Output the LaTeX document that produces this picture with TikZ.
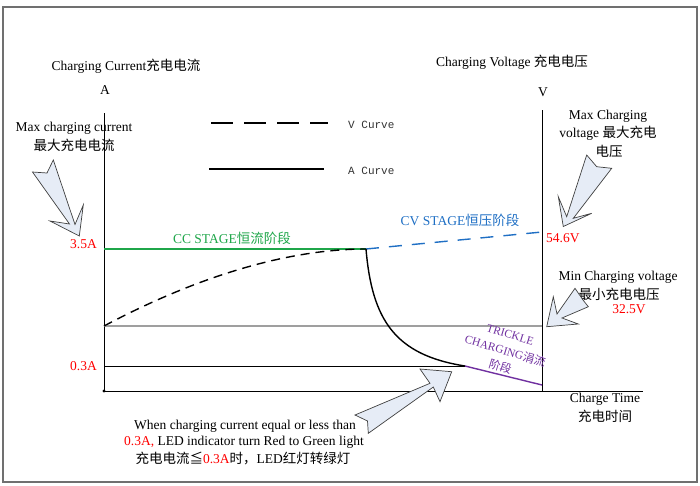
\documentclass[tikz,border=0pt]{standalone}
\usepackage{fontspec}
\setmainfont{Liberation Serif}
\newfontfamily\cjk{Noto Sans CJK SC}
\newfontfamily\monof{Liberation Mono}
\newcommand{\zh}[1]{{\cjk #1}}
\definecolor{calloutfill}{HTML}{E6ECF6}
\definecolor{ccgreen}{HTML}{1FA64A}
\definecolor{cvblue}{HTML}{1F6FC4}
\definecolor{trpurple}{HTML}{7030A0}
\definecolor{framegray}{HTML}{707070}
\begin{document}
\begin{tikzpicture}[x=1pt,y=-1pt,
  lbl/.style={font=\fontsize{13.5}{15}\selectfont, inner sep=0pt},
  redlbl/.style={lbl, text=red},
  trick/.style={font=\fontsize{11.5}{17}\selectfont, inner sep=0pt, text=trpurple, rotate=-17, align=center},
  legendtxt/.style={font=\monof\fontsize{11}{13}\selectfont, inner sep=0pt, text=black!80},
  callout/.style={draw=black!75, fill=calloutfill, line width=0.7pt, line join=miter},
  axis/.style={draw=black, line width=0.9pt},
  curve/.style={line width=1.4pt}]
\useasboundingbox (0,0) rectangle (700,485);
\draw[framegray, line width=1.6pt] (3,7) rectangle (697,482);

% axes
\coordinate (O) at (104,391);
\coordinate (Atop) at (104,113);
\coordinate (Vbot) at (542,391);
\coordinate (Vtop) at (542,110);
\coordinate (Tend) at (643,391);
\draw[axis] (Atop) -- (O) -- (Tend);
\draw[axis] (Vtop) -- (Vbot);
\fill (O) circle (1.6);

% reference lines
\coordinate (g0) at (104,249);
\coordinate (knee) at (366,249);
\coordinate (m0) at (104,326);
\coordinate (m1) at (542,326);
\coordinate (l0) at (104,366);
\coordinate (l1) at (465,366);
\coordinate (cvend) at (542,232);
\coordinate (trend) at (542,385);
\draw[gray!75, line width=1.1pt] (m0) -- (m1);
\draw[black, line width=1pt] (l0) -- (l1);
\draw[ccgreen, line width=1.4pt] (g0) -- (knee);

% curves
\draw[curve, dash pattern=on 9pt off 6pt] (m0) .. controls (200,275) and (290,249) .. (knee);
\draw[cvblue, curve, dash pattern=on 13pt off 10pt] (knee) -- (cvend);
\draw[curve] (knee) .. controls (372,320) and (395,355) .. (l1);
\draw[trpurple, curve] (l1) -- (trend);

% legend
\coordinate (lv0) at (211,123);
\coordinate (lv1) at (328,123);
\coordinate (la0) at (209,169);
\coordinate (la1) at (324,169);
\draw[line width=1.8pt, dash pattern=on 22pt off 11pt] (lv0) -- (lv1);
\draw[line width=1.8pt] (la0) -- (la1);
\node[legendtxt, anchor=west] (vcurve) at (348,125) {V Curve};
\node[legendtxt, anchor=west] (acurve) at (348,171) {A Curve};

% titles
\node[lbl] (ctitle) at (126,66) {Charging Current\zh{充电电流}};
\node[lbl] (aunit) at (105,90) {A};
\node[lbl] (vtitle) at (512,62) {Charging Voltage \zh{充电电压}};
\node[lbl] (vunit) at (543,92) {V};

% callout texts
\node[lbl] (maxc1) at (74,128) {Max charging current};
\node[lbl] (maxc2) at (74,145) {\zh{最大充电电流}};
\node[lbl] (maxv1) at (608,116) {Max Charging};
\node[lbl] (maxv2) at (608,133) {voltage \zh{最大充电}};
\node[lbl] (maxv3) at (609,151) {\zh{电压}};
\node[lbl] (minv1) at (618,277) {Min Charging voltage};
\node[lbl] (minv2) at (619,294) {\zh{最小充电电压}};
\node[redlbl] (minv3) at (629,309) {32.5V};

% value labels
\node[redlbl, anchor=east] (i35) at (97,244) {3.5A};
\node[redlbl, anchor=east] (i03) at (97,366) {0.3A};
\node[redlbl, anchor=west] (v546) at (546,238) {54.6V};

% stage labels
\node[lbl, text=ccgreen] (cc) at (232,238) {CC STAGE\zh{恒流阶段}};
\node[lbl, text=cvblue] (cv) at (460,220) {CV STAGE\zh{恒压阶段}};
\node[trick] (tr) at (505,351.5) {TRICKLE\\CHARGING\zh{涓流}\\\zh{阶段}};

% time axis label
\node[lbl] (ct1) at (605,399) {Charge Time};
\node[lbl] (ct2) at (605,416) {\zh{充电时间}};

% bottom note
\node[lbl] (n1) at (245,426) {When charging current equal or less than};
\node[lbl] (n2) at (244,442) {\textcolor{red}{0.3A,} LED indicator turn Red to Green light};
\node[lbl] (n3) at (243,459) {\zh{充电电流≦}\textcolor{red}{0.3A}\zh{时，}LED\zh{红灯转绿灯}};

% block arrows
\draw[callout] (32.5,172) -- (47,173) -- (53.3,160) -- (75,224.5) -- (83.3,205) -- (79.3,236) -- (50,221) -- (69.5,224) -- cycle;
\draw[callout] (586.7,155) -- (596.7,166.7) -- (611.7,168.3) -- (573.3,218.3) -- (591.7,213.3) -- (563.3,226.5) -- (558.3,196.7) -- (566.7,216.7) -- cycle;
\draw[callout] (575,288.3) -- (583,300) -- (588.3,306.7) -- (562,318) -- (578.3,324) -- (546.7,326.7) -- (553.3,296.7) -- (557,314) -- cycle;
\draw[callout] (355,415) -- (430,383.3) -- (420,369) -- (451.7,371.7) -- (440,401.7) -- (433.3,387) -- (368.3,433.3) -- (367.5,421) -- cycle;
\end{tikzpicture}
\end{document}
